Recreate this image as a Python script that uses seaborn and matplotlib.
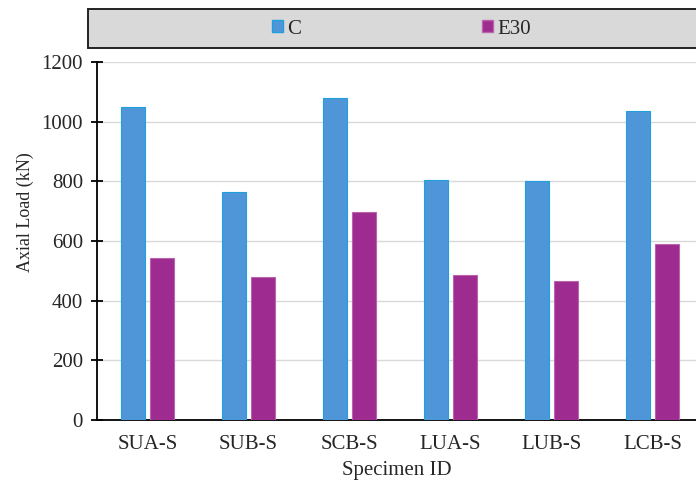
import pandas as pd
import matplotlib.pyplot as plt
import seaborn as sns
from matplotlib.patches import Patch, Rectangle

# values
specimens = ['SUA-S', 'SUB-S', 'SCB-S', 'LUA-S', 'LUB-S', 'LCB-S']
load_c = [1048, 765, 1081, 805, 802, 1036]
load_e30 = [542, 479, 696, 485, 466, 590]
series = ['C', 'E30']

fill_colors = ['#4f96d9', '#9e2b8f']
edge_colors = ['#1fa0dc', '#b865ad']

data = pd.DataFrame({
    'Specimen': specimens * 2,
    'Load': load_c + load_e30,
    'Series': ['C'] * len(specimens) + ['E30'] * len(specimens),
})

sns.set_style('white')
plt.rcParams['font.family'] = ['Liberation Serif', 'DejaVu Serif']
fs = 15

fig = plt.figure(figsize=(6.96, 4.86), dpi=100)
ax = fig.add_axes([97 / 696, 66 / 486, 599 / 696, 358 / 486])

sns.barplot(data=data, x='Specimen', y='Load', hue='Series', palette=fill_colors,
            saturation=1, width=0.58, gap=0.2, legend=False, ax=ax, zorder=3)

for cont, ec in zip(ax.containers, edge_colors):
    for bar in cont:
        bar.set_edgecolor(ec)
        bar.set_linewidth(0.8)

ax.set_ylim(0, 1200)
ax.set_yticks(range(0, 1201, 200))
ax.set_xlim(-0.5, 5.43)
ax.yaxis.grid(True, color='#d9d9d9', linewidth=1, zorder=0)
ax.set_axisbelow(True)

for s in ['top', 'right']:
    ax.spines[s].set_visible(False)
for s in ['left', 'bottom']:
    ax.spines[s].set_color('black')
    ax.spines[s].set_linewidth(1.3)

ax.tick_params(axis='y', direction='inout', length=8, width=1.3, color='black',
               labelsize=fs, pad=6, left=True)
ax.tick_params(axis='x', length=0, labelsize=fs, pad=11)

ax.set_xlabel('Specimen ID', fontsize=fs, labelpad=5)
ax.set_ylabel('Axial Load (kN)', fontsize=13)
ax.yaxis.set_label_coords(-0.105, 0.581)

# grey legend band at the top
fig.patches.append(Rectangle((88 / 696, 1 - 48 / 486), 620 / 696, 39 / 486,
                             transform=fig.transFigure, facecolor='#d9d9d9',
                             edgecolor='#222222', linewidth=1.4, zorder=1))
handles = [Patch(facecolor=fc, edgecolor=ec, linewidth=1, label=lab)
           for fc, ec, lab in zip(fill_colors, edge_colors, series)]
fig.legend(handles=handles, loc='center left', bbox_to_anchor=(272 / 696, 1 - 29 / 486),
           ncol=2, frameon=False, fontsize=fs, handlelength=0.53, handleheight=0.53,
           handletextpad=0.19, columnspacing=8.7, borderpad=0, borderaxespad=0)

fig.savefig('out.png', dpi=100)
